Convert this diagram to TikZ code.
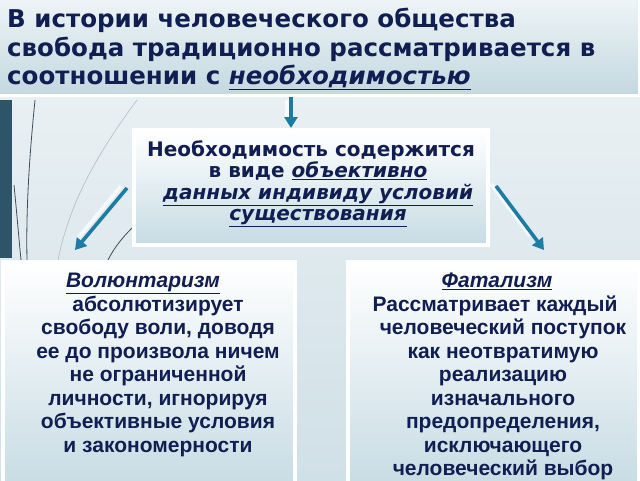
\documentclass[tikz,border=0pt]{standalone}
\usepackage{fontspec}
\setmainfont{DejaVu Sans}
\newfontfamily\arialf{Liberation Sans}
\usetikzlibrary{arrows.meta}
\definecolor{navy}{HTML}{101E52}
\definecolor{arrowc}{HTML}{1C7CA4}
\definecolor{bgtop}{HTML}{EFF4F6}
\definecolor{bgbot}{HTML}{D0E0E7}
\definecolor{titletop}{HTML}{EEF4F6}
\definecolor{titlebot}{HTML}{C3D8E0}
\definecolor{boxbot}{HTML}{C6DBE3}
\definecolor{stripc}{HTML}{2E5467}
\definecolor{wispdark}{HTML}{3C4E5A}
\definecolor{wisplight}{HTML}{B5C2C8}
\tikzset{
  panel/.style={draw=white, line width=4pt, top color=white, bottom color=boxbot, inner sep=0pt},
  bigarrow/.style={arrowc, line width=3.6pt, -{Triangle[length=11pt,width=13pt]}},
  arrowshadow/.style={white, opacity=0.7, line width=3.6pt},
  wisp/.style={wispdark, line width=0.8pt},
  wispl/.style={wisplight, line width=0.7pt},
  titletext/.style={font=\bfseries\fontsize{24.5}{28.5}\selectfont, text=navy, align=left, inner sep=0pt, anchor=north west},
  needtext/.style={font=\bfseries\fontsize{20}{21.5}\selectfont, text=navy, align=center, inner sep=0pt, anchor=north},
  sidetext/.style={font=\arialf\bfseries\fontsize{21}{23.5}\selectfont, text=navy, align=center, inner sep=0pt, anchor=north}
}
\begin{document}
\begin{tikzpicture}[x=1pt,y=-1pt]
\useasboundingbox (0,0) rectangle (640,480);
\clip (0,0) rectangle (640,480);
% background
\fill[top color=bgtop, bottom color=bgbot] (0,0) rectangle (640,480);
% left strip
\fill[stripc] (0,100) rectangle (12,258);
% wisps
\draw[wisp] (35,100) .. controls (29,160) and (26,210) .. (27,260);
\draw[wisp] (14,185) .. controls (17,215) and (19,240) .. (21,260);
\draw[wispl] (137,100) .. controls (100,150) and (70,200) .. (58,260);
\draw[wisp] (132,228) .. controls (122,238) and (114,248) .. (108,260);
% title bar
\node[draw=white, line width=3pt, top color=titletop, bottom color=titlebot, minimum width=642pt, minimum height=97pt, inner sep=0pt] (title) at (318,47) {};
\node[titletext] (titlet) at (7,8) {В истории человеческого общества\\свобода традиционно рассматривается в\\соотношении с \underline{\textit{необходимостью}}};
% center box
\node[panel, minimum width=354pt, minimum height=115pt] (need) at (311,187.5) {};
\node[needtext] (needt) at (318,140) {\hspace*{-14pt}Необходимость содержится\\в виде \underline{\textit{объективно}}\\\underline{\textit{данных индивиду условий}}\\\underline{\textit{существования}}};
% bottom boxes
\node[panel, minimum width=292pt, minimum height=230pt, anchor=north west] (vol) at (1,260) {};
\node[panel, minimum width=291pt, minimum height=230pt, anchor=north west] (fat) at (346,260) {};
\node[sidetext] (volt) at (158,273) {\underline{\textit{Волюнтаризм}}\rule{30pt}{0pt}\\абсолютизирует\\свободу воли, доводя\\ее до произвола ничем\\не ограниченной\\личности, игнорируя\\объективные условия\\и закономерности};
\node[sidetext] (fatt) at (503,273) {\underline{\textit{Фатализм}}\rule{12pt}{0pt}\\\hspace*{-16pt}Рассматривает каждый\\человеческий поступок\\как неотвратимую\\реализацию\\изначального\\предопределения,\\исключающего\\человеческий выбор};
% arrows
\coordinate (a1s) at (127,188);
\coordinate (a1e) at (75,250);
\coordinate (a2s) at (496,186);
\coordinate (a2e) at (544,250);
\draw[arrowshadow] (287,100) -- (287,118);
\draw[arrowshadow] (121,186) -- (78,238);
\draw[arrowshadow] (491,184) -- (530,236);
\draw[bigarrow] (291,97) -- (need.north -| 291,0);
\draw[bigarrow] (a1s) -- (a1e);
\draw[bigarrow] (a2s) -- (a2e);
\end{tikzpicture}
\end{document}
